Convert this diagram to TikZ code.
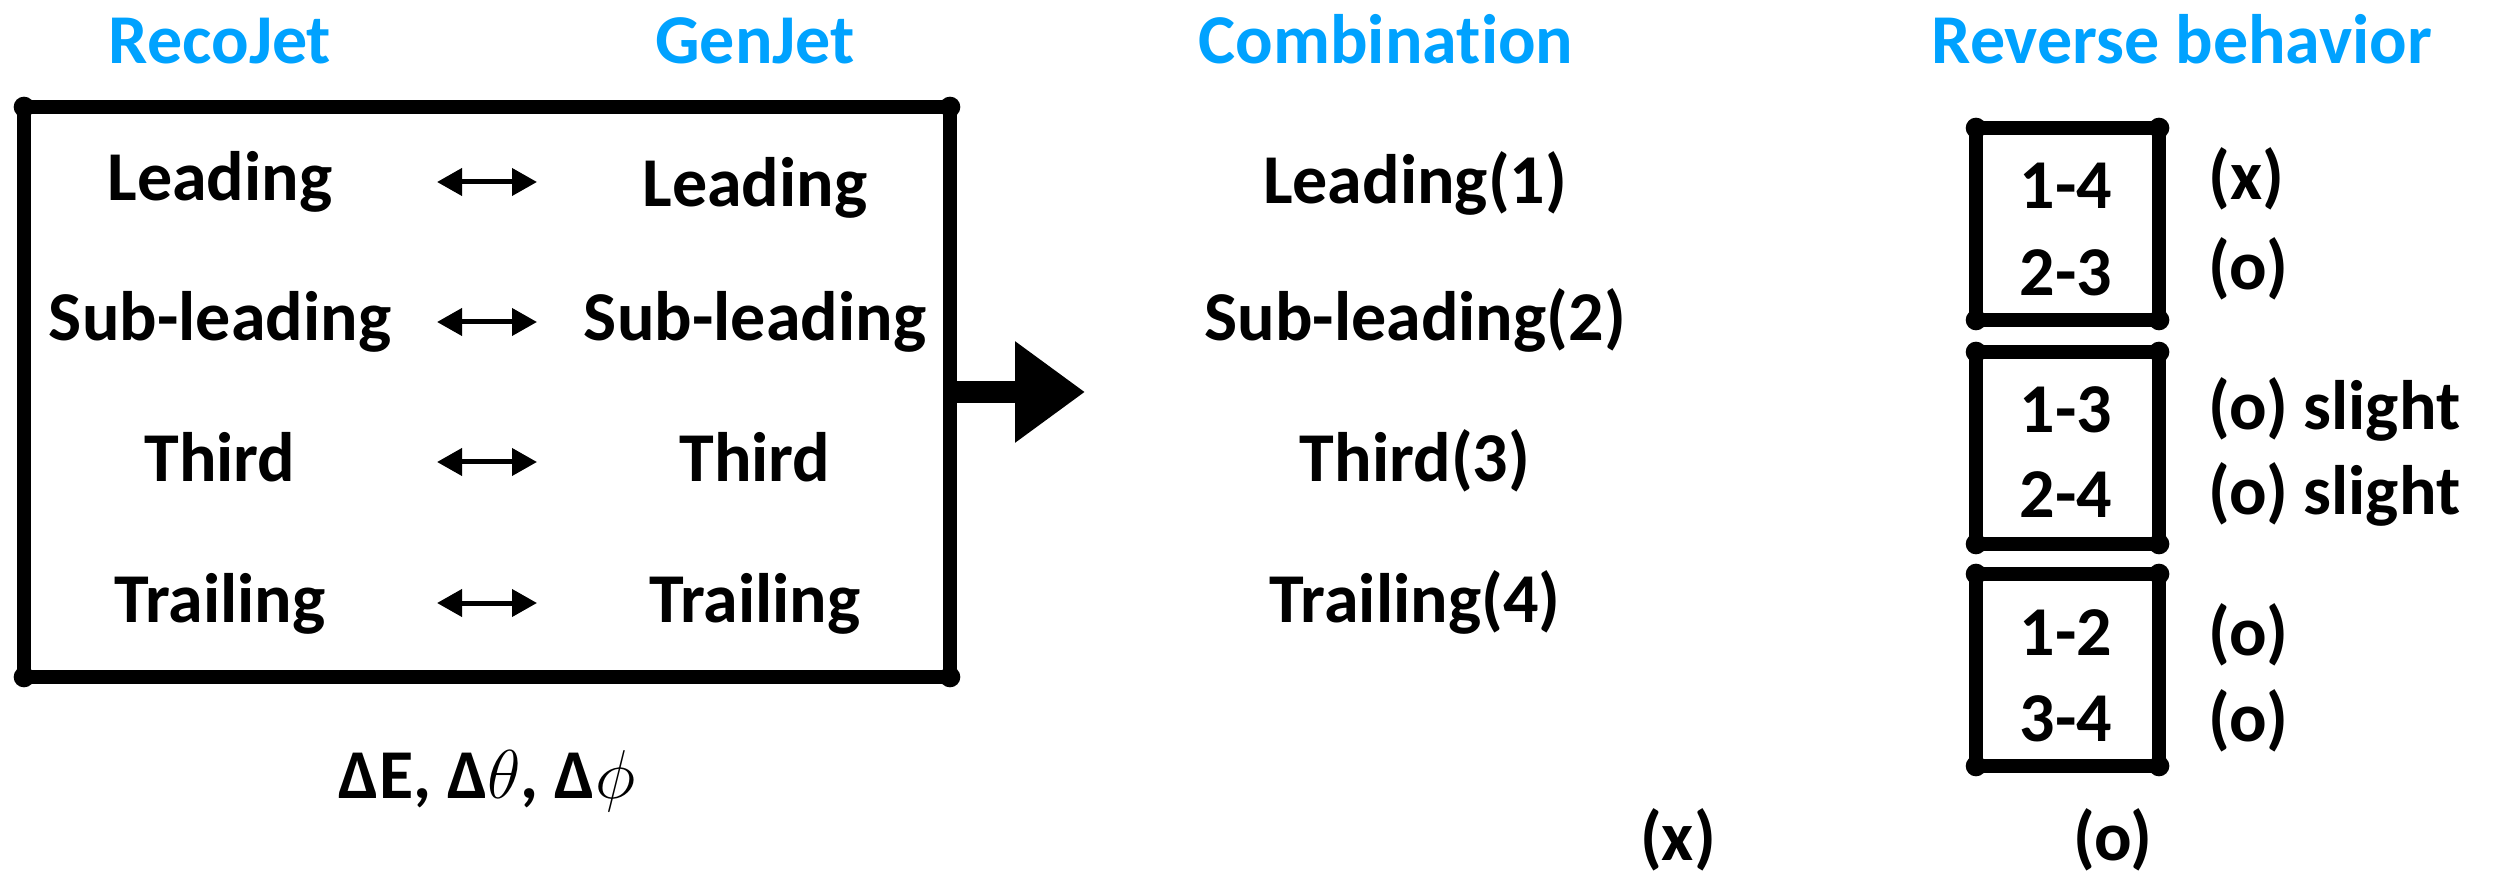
\documentclass[tikz,border=0pt]{standalone}
\usepackage{fontspec}
\setmainfont{Carlito}[Ligatures=NoCommon]
\usetikzlibrary{arrows.meta}
\definecolor{hdrblue}{RGB}{0,162,255}
\newcommand\inkframe[1]{%
  \draw[line width=4.2pt, line join=round] (#1.north west) rectangle (#1.south east);
  \fill (#1.north west) circle[radius=3.1pt];
  \fill (#1.north east) circle[radius=3.1pt];
  \fill (#1.south west) circle[radius=3.1pt];
  \fill (#1.south east) circle[radius=3.1pt];}
\begin{document}
\begin{tikzpicture}[x=0.3pt,y=-0.3pt,
  every node/.style={font=\fontsize{21}{25}\selectfont\bfseries},
  hdr/.style={anchor=base, text=hdrblue, font=\fontsize{21}{24}\selectfont\bfseries},
  lbl/.style={anchor=base},
  lblw/.style={anchor=base west, inner sep=0pt},
  frame/.style={inner sep=0pt, outer sep=0pt},
  dbl/.style={line width=1.5pt, {Triangle[length=7.5pt,width=8pt]}-{Triangle[length=7.5pt,width=8pt]}},
  bigarrow/.style={line width=6.6pt, -{Triangle[length=21pt,width=29pt]}}]
\useasboundingbox (0,0) rectangle (2501,874);

% headers
\node[hdr] (hreco) at (220,64) {RecoJet};
\node[hdr] (hgen) at (755,64) {GenJet};
\node[hdr] (hcomb) at (1386,64) {Combination};
\node[hdr] (hrev) at (2182,64) {Reverse behavior};

% big box
\node[frame, minimum width=277.8pt, minimum height=171pt] (bigbox) at (487,392) {};
\inkframe{bigbox}

\node[lbl] (l1) at (220,201) {Leading};
\node[lbl] (l2) at (220,341) {Sub-leading};
\node[lbl] (l3) at (220,482) {Third};
\node[lbl] (l4) at (220,622) {Trailing};
\node[lbl] (r1) at (755,207) {Leading};
\node[lbl] (r2) at (755,341) {Sub-leading};
\node[lbl] (r3) at (755,482) {Third};
\node[lbl] (r4) at (755,622) {Trailing};

\coordinate (a1l) at (437,182); \coordinate (a1r) at (537,182);
\coordinate (a2l) at (437,322); \coordinate (a2r) at (537,322);
\coordinate (a3l) at (437,462); \coordinate (a3r) at (537,462);
\coordinate (a4l) at (437,603); \coordinate (a4r) at (537,603);
\draw[dbl] (a1l) -- (a1r);
\draw[dbl] (a2l) -- (a2r);
\draw[dbl] (a3l) -- (a3r);
\draw[dbl] (a4l) -- (a4r);

\node[lbl] (delta) at (487,798) {ΔE, Δ$\theta$, Δ$\phi$};

% big arrow
\coordinate (tip) at (1085,392);
\draw[bigarrow] (bigbox.east) -- (tip);

% combination column
\node[lbl] (c1) at (1415,204) {Leading(1)};
\node[lbl] (c2) at (1415,341) {Sub-leading(2)};
\node[lbl] (c3) at (1415,482) {Third(3)};
\node[lbl] (c4) at (1415,622) {Trailing(4)};

% reverse boxes
\node[frame, minimum width=54.9pt, minimum height=57.6pt] (rb1) at (2067.5,224) {};
\node[frame, minimum width=54.9pt, minimum height=57.6pt] (rb2) at (2067.5,448) {};
\node[frame, minimum width=54.9pt, minimum height=57.6pt] (rb3) at (2067.5,670) {};
\inkframe{rb1}
\inkframe{rb2}
\inkframe{rb3}

\node[lbl] (p14) at (2066,209) {1-4};
\node[lbl] (p23) at (2066,296) {2-3};
\node[lbl] (p13) at (2066,433) {1-3};
\node[lbl] (p24) at (2066,518) {2-4};
\node[lbl] (p12) at (2066,655) {1-2};
\node[lbl] (p34) at (2066,741) {3-4};

\node[lblw] (s14) at (2208,200) {(x)};
\node[lblw] (s23) at (2208,290) {(o)};
\node[lblw] (s13) at (2208,430) {(o) slight};
\node[lblw] (s24) at (2208,515) {(o) slight};
\node[lblw] (s12) at (2208,655) {(o)};
\node[lblw] (s34) at (2208,741) {(o)};

\node[lbl] (bx) at (1678,860) {(x)};
\node[lbl] (bo) at (2113,860) {(o)};
\end{tikzpicture}
\end{document}
